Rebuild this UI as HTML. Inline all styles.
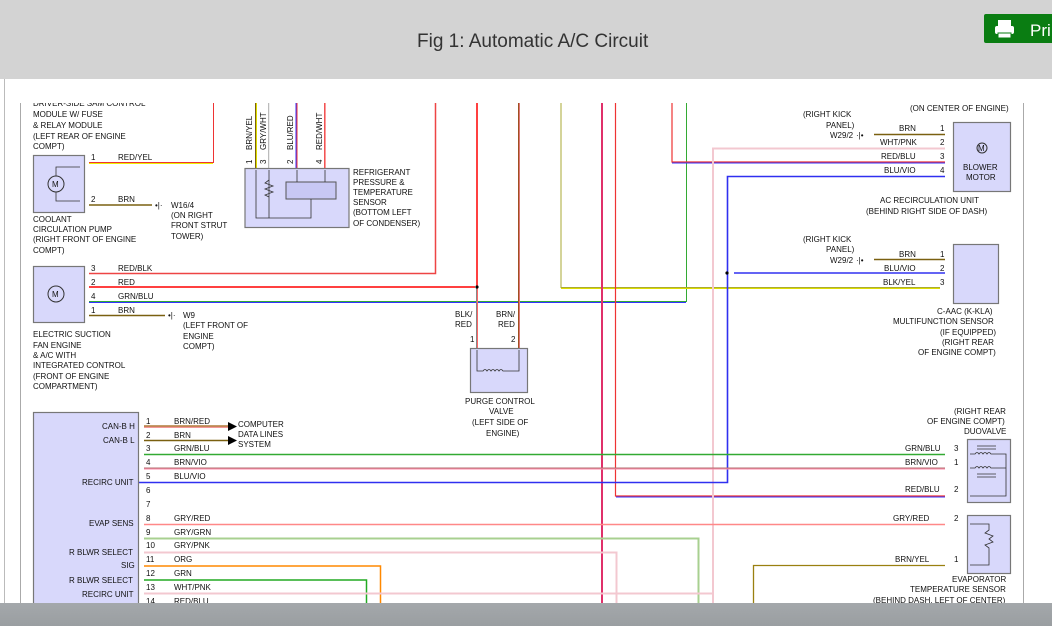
<!DOCTYPE html>
<html><head><meta charset="utf-8"><style>
html,body{margin:0;padding:0;width:1052px;height:626px;overflow:hidden;background:#fff}
svg{display:block}
text{font-family:"Liberation Sans",Arial,sans-serif;font-size:8px;fill:#111}
.t{font-size:19px;fill:#333}
.box{fill:#d8d8fb;stroke:#777;stroke-width:1.2}
.in{fill:none;stroke:#333;stroke-width:0.8}
</style></head><body>
<svg width="1052" height="626" viewBox="0 0 1052 626" xmlns="http://www.w3.org/2000/svg">
<defs><clipPath id="c"><rect x="0" y="103" width="1052" height="500"/></clipPath>
<linearGradient id="bb" x1="0" y1="0" x2="0" y2="1"><stop offset="0" stop-color="#a4a8ab"/><stop offset="1" stop-color="#9a9ea1"/></linearGradient></defs>
<rect x="0" y="0" width="1052" height="79" fill="#d3d3d3"/>
<text x="417" y="47" class="t">Fig 1: Automatic A/C Circuit</text>
<rect x="984" y="14" width="80" height="29" rx="2" fill="#0a7d12"/>
<rect x="998" y="20" width="13" height="6" fill="#fff"/><rect x="995" y="26" width="19" height="8" rx="2" fill="#fff"/><rect x="998" y="33" width="13" height="5" fill="#fff" stroke="#0a7d12"/>
<text x="1030" y="36" style="font-size:17px;fill:#fff">Pri</text>
<line x1="4.5" y1="79" x2="4.5" y2="626" stroke="#bbb"/>
<line x1="20.5" y1="103" x2="20.5" y2="626" stroke="#aaa"/>
<line x1="1023.5" y1="103" x2="1023.5" y2="626" stroke="#aaa"/>
<g clip-path="url(#c)">
<!-- top left text -->
<text x="33" y="106">DRIVER-SIDE SAM CONTROL</text>
<text x="33" y="117">MODULE W/ FUSE</text>
<text x="33" y="128">&amp; RELAY MODULE</text>
<text x="33" y="139">(LEFT REAR OF ENGINE</text>
<text x="33" y="149">COMPT)</text>
<!-- coolant pump -->
<rect class="box" x="33.5" y="155.5" width="51" height="57"/>
<circle cx="56" cy="184" r="8" fill="none" stroke="#333"/><text x="52" y="187">M</text>
<path class="in" d="M56 176 V167 H80 M56 192 V201 H80"/>
<text x="91" y="160">1</text><text x="91" y="202">2</text>
<text x="118" y="160">RED/YEL</text><text x="118" y="202">BRN</text>
<path d="M89 162.5 H213.5 V103" stroke="#e33" fill="none"/><line x1="89" y1="163.5" x2="213" y2="163.5" stroke="#ee0"/>
<line x1="89" y1="205" x2="152" y2="205" stroke="#7a6010" stroke-width="1.5"/>
<text x="155" y="208">•|·</text>
<text x="171" y="208">W16/4</text><text x="171" y="218">(ON RIGHT</text><text x="171" y="228">FRONT STRUT</text><text x="171" y="239">TOWER)</text>
<text x="33" y="222">COOLANT</text><text x="33" y="232">CIRCULATION PUMP</text><text x="33" y="242">(RIGHT FRONT OF ENGINE</text><text x="33" y="253">COMPT)</text>
<!-- refrigerant sensor -->
<line x1="255.5" y1="103" x2="255.5" y2="168" stroke="#7a6010"/><line x1="256.5" y1="103" x2="256.5" y2="168" stroke="#dd0"/>
<line x1="268.5" y1="103" x2="268.5" y2="168" stroke="#bbb"/><line x1="269.5" y1="103" x2="269.5" y2="168" stroke="#eee"/>
<line x1="296" y1="103" x2="296" y2="168" stroke="#33f"/><line x1="297" y1="103" x2="297" y2="168" stroke="#e33"/>
<line x1="324.5" y1="103" x2="324.5" y2="168" stroke="#e55"/><line x1="325.5" y1="103" x2="325.5" y2="168" stroke="#f99"/>
<text transform="translate(252,150) rotate(-90)">BRN/YEL</text>
<text transform="translate(266,150) rotate(-90)">GRY/WHT</text>
<text transform="translate(293,150) rotate(-90)">BLU/RED</text>
<text transform="translate(322,150) rotate(-90)">RED/WHT</text>
<text transform="translate(252,164) rotate(-90)">1</text><text transform="translate(266,164) rotate(-90)">3</text>
<text transform="translate(293,164) rotate(-90)">2</text><text transform="translate(322,164) rotate(-90)">4</text>
<rect class="box" x="245" y="168.5" width="104" height="59"/>
<rect x="286" y="182" width="50" height="17" fill="#c8c8f4" stroke="#555"/>
<path class="in" d="M256 170 V218 H311 V199 M269 170 V218 M297 170 V182 M325 170 V182"/>
<path class="in" d="M269 180 l-4 3 l8 3 l-8 3 l8 3 l-8 3 l4 2"/>
<text x="353" y="175">REFRIGERANT</text><text x="353" y="185">PRESSURE &amp;</text><text x="353" y="195">TEMPERATURE</text><text x="353" y="205">SENSOR</text><text x="353" y="215">(BOTTOM LEFT</text><text x="353" y="226">OF CONDENSER)</text>
<!-- fan -->
<rect class="box" x="33.5" y="266.5" width="51" height="56"/>
<circle cx="56" cy="294" r="8" fill="none" stroke="#333"/><text x="52" y="297">M</text>
<text x="91" y="271">3</text><text x="91" y="285">2</text><text x="91" y="299">4</text><text x="91" y="313">1</text>
<text x="118" y="271">RED/BLK</text><text x="118" y="285">RED</text><text x="118" y="299">GRN/BLU</text><text x="118" y="313">BRN</text>
<path d="M89 273.5 H435.5 V103" stroke="#e44" fill="none" stroke-width="1.5"/>
<line x1="89" y1="287" x2="475" y2="287" stroke="#f00" stroke-width="1.5"/>
<path d="M89 301.5 H686.5 V103" stroke="#3a3" fill="none"/><line x1="89" y1="302.5" x2="686" y2="302.5" stroke="#33f"/>
<line x1="89" y1="315.5" x2="165" y2="315.5" stroke="#7a6010" stroke-width="1.5"/>
<text x="168" y="318">•|·</text>
<text x="183" y="318">W9</text><text x="183" y="328">(LEFT FRONT OF</text><text x="183" y="339">ENGINE</text><text x="183" y="349">COMPT)</text>
<text x="33" y="337">ELECTRIC SUCTION</text><text x="33" y="348">FAN ENGINE</text><text x="33" y="358">&amp; A/C WITH</text><text x="33" y="368">INTEGRATED CONTROL</text><text x="33" y="379">(FRONT OF ENGINE</text><text x="33" y="389">COMPARTMENT)</text>
<!-- center verticals -->
<line x1="477" y1="103" x2="477" y2="287" stroke="#f00" stroke-width="1.5"/>
<line x1="476.5" y1="287" x2="476.5" y2="348" stroke="#888"/><line x1="477.5" y1="287" x2="477.5" y2="348" stroke="#f66"/>
<circle cx="477" cy="287" r="1.6" fill="#000"/>
<line x1="518.5" y1="103" x2="518.5" y2="348" stroke="#a05020"/><line x1="519.5" y1="103" x2="519.5" y2="348" stroke="#d77"/>
<path d="M561 103 V287.5 H940" stroke="#aa3" fill="none"/><line x1="561" y1="288.5" x2="940" y2="288.5" stroke="#dd0"/>
<line x1="602" y1="103" x2="602" y2="603" stroke="#e0306a" stroke-width="2"/>
<path d="M615.5 103 V496 H945" stroke="#e33" fill="none" stroke-width="1.2"/><line x1="616" y1="497" x2="945" y2="497" stroke="#33f"/>
<path d="M672 103 V162 H945" stroke="#e33" fill="none" stroke-width="1.2"/><line x1="672" y1="163" x2="945" y2="163" stroke="#33f"/>
<path d="M713 603 V148.5 H945" stroke="#f3c8d0" fill="none" stroke-width="2"/>
<path d="M945 176.5 H727.5 V482.5 H89" stroke="#3030f0" fill="none" stroke-width="1.6"/>
<line x1="734" y1="273" x2="945" y2="273" stroke="#3030f0" stroke-width="1.6"/>
<circle cx="727" cy="273" r="1.6" fill="#000"/>
<text x="455" y="317">BLK/</text><text x="455" y="327">RED</text><text x="496" y="317">BRN/</text><text x="498" y="327">RED</text>
<text x="470" y="342">1</text><text x="511" y="342">2</text>
<rect class="box" x="470.5" y="348.5" width="57" height="44"/>
<path class="in" d="M477 350 V371 H483 q2 -3 4 0 q2 -3 4 0 q2 -3 4 0 q2 -3 4 0 q2 -3 4 0 H519 V350"/>
<text x="465" y="404">PURGE CONTROL</text><text x="489" y="414">VALVE</text><text x="472" y="425">(LEFT SIDE OF</text><text x="486" y="436">ENGINE)</text>
<!-- blower -->
<text x="910" y="111">(ON CENTER OF ENGINE)</text>
<text x="803" y="117">(RIGHT KICK</text><text x="826" y="128">PANEL)</text><text x="830" y="138">W29/2</text>
<text x="856" y="138">·|•</text>
<line x1="874" y1="134.5" x2="945" y2="134.5" stroke="#7a6010" stroke-width="1.5"/>
<text x="899" y="131">BRN</text><text x="880" y="145">WHT/PNK</text><text x="881" y="159">RED/BLU</text><text x="884" y="173">BLU/VIO</text>
<text x="940" y="131">1</text><text x="940" y="145">2</text><text x="940" y="159">3</text><text x="940" y="173">4</text>
<rect class="box" x="953.5" y="122.5" width="57" height="69"/>
<circle cx="982" cy="148" r="5" fill="none" stroke="#333"/><text x="978" y="151">M</text>
<text x="963" y="170">BLOWER</text><text x="966" y="180">MOTOR</text>
<text x="880" y="203">AC RECIRCULATION UNIT</text><text x="866" y="214">(BEHIND RIGHT SIDE OF DASH)</text>
<!-- C-AAC -->
<text x="803" y="242">(RIGHT KICK</text><text x="826" y="252">PANEL)</text><text x="830" y="263">W29/2</text>
<text x="856" y="263">·|•</text>
<line x1="874" y1="259.5" x2="945" y2="259.5" stroke="#7a6010" stroke-width="1.5"/>
<text x="899" y="257">BRN</text><text x="884" y="271">BLU/VIO</text><text x="883" y="285">BLK/YEL</text>
<text x="940" y="257">1</text><text x="940" y="271">2</text><text x="940" y="285">3</text>
<rect class="box" x="953.5" y="244.5" width="45" height="59"/>
<text x="937" y="314">C-AAC (K-KLA)</text><text x="893" y="324">MULTIFUNCTION SENSOR</text><text x="940" y="335">(IF EQUIPPED)</text><text x="942" y="345">(RIGHT REAR</text><text x="918" y="355">OF ENGINE COMPT)</text>
<!-- control module -->
<rect class="box" x="33.5" y="412.5" width="105" height="200"/>
<text x="102" y="429">CAN-B H</text><text x="103" y="443">CAN-B L</text><text x="82" y="485">RECIRC UNIT</text>
<text x="89" y="526">EVAP SENS</text><text x="69" y="555">R BLWR SELECT</text><text x="121" y="568">SIG</text>
<text x="69" y="583">R BLWR SELECT</text><text x="82" y="597">RECIRC UNIT</text>
<g>
<text x="146" y="424">1</text><text x="146" y="438">2</text><text x="146" y="451">3</text><text x="146" y="465">4</text><text x="146" y="479">5</text><text x="146" y="493">6</text><text x="146" y="507">7</text><text x="146" y="521">8</text><text x="146" y="535">9</text><text x="146" y="548">10</text><text x="146" y="562">11</text><text x="146" y="576">12</text><text x="146" y="590">13</text><text x="146" y="604">14</text>
<text x="174" y="424">BRN/RED</text><text x="174" y="438">BRN</text><text x="174" y="451">GRN/BLU</text><text x="174" y="465">BRN/VIO</text><text x="174" y="479">BLU/VIO</text><text x="174" y="521">GRY/RED</text><text x="174" y="535">GRY/GRN</text><text x="174" y="548">GRY/PNK</text><text x="174" y="562">ORG</text><text x="174" y="576">GRN</text><text x="174" y="590">WHT/PNK</text><text x="174" y="604">RED/BLU</text>
</g>
<line x1="144" y1="426" x2="228" y2="426" stroke="#a06010" stroke-width="1.2"/><line x1="144" y1="427.2" x2="228" y2="427.2" stroke="#e77"/>
<line x1="144" y1="440.5" x2="228" y2="440.5" stroke="#7a6010" stroke-width="1.5"/>
<path d="M228 422 L237 426.5 L228 431Z M228 436 L237 440.5 L228 445Z" fill="#000"/>
<text x="238" y="427">COMPUTER</text><text x="238" y="437">DATA LINES</text><text x="238" y="447">SYSTEM</text>
<line x1="144" y1="454.5" x2="945" y2="454.5" stroke="#3a3" stroke-width="1.5"/>
<line x1="144" y1="468" x2="945" y2="468" stroke="#b07070"/><line x1="144" y1="469" x2="945" y2="469" stroke="#f8a"/>
<line x1="144" y1="524.5" x2="945" y2="524.5" stroke="#f88" stroke-width="1.5"/>
<path d="M144 538.5 H698.5 V603" stroke="#a8d090" fill="none" stroke-width="2"/>
<path d="M144 552.5 H616.5 V603" stroke="#f3c8d0" fill="none" stroke-width="2"/>
<path d="M144 566 H380.5 V603" stroke="#f80" fill="none" stroke-width="1.5"/>
<path d="M144 580 H366.5 V603" stroke="#2a2" fill="none" stroke-width="1.5"/>
<line x1="144" y1="593.5" x2="713" y2="593.5" stroke="#f3c8d0" stroke-width="2"/>
<path d="M753.5 603 V565.5 H945" stroke="#9a8010" fill="none" stroke-width="1.3"/>
<!-- duovalve -->
<text x="954" y="414">(RIGHT REAR</text><text x="927" y="424">OF ENGINE COMPT)</text><text x="964" y="434">DUOVALVE</text>
<text x="905" y="451">GRN/BLU</text><text x="905" y="465">BRN/VIO</text><text x="905" y="492">RED/BLU</text>
<text x="954" y="451">3</text><text x="954" y="465">1</text><text x="954" y="492">2</text>
<rect class="box" x="967.5" y="439.5" width="43" height="63"/>
<path class="in" d="M970 454 H975 q2 -3 4 0 q2 -3 4 0 q2 -3 4 0 q2 -3 4 0 H1006 V496 H970 M970 468 H975 q2 -3 4 0 q2 -3 4 0 q2 -3 4 0 q2 -3 4 0 H1006 M977 446 H996 M977 449 H996 M977 474 H996 M977 477 H996"/>
<!-- evap -->
<text x="893" y="521">GRY/RED</text><text x="895" y="562">BRN/YEL</text>
<text x="954" y="521">2</text><text x="954" y="562">1</text>
<rect class="box" x="967.5" y="515.5" width="43" height="58"/>
<path class="in" d="M970 524 H989 V530 l-4 3 l8 3 l-4 3 l4 3 l-8 3 l4 3 V565 H970"/>
<text x="952" y="582">EVAPORATOR</text><text x="910" y="592">TEMPERATURE SENSOR</text><text x="873" y="603">(BEHIND DASH, LEFT OF CENTER)</text>
</g>
<rect x="0" y="603" width="1052" height="23" fill="url(#bb)"/>
</svg>
</body></html>
